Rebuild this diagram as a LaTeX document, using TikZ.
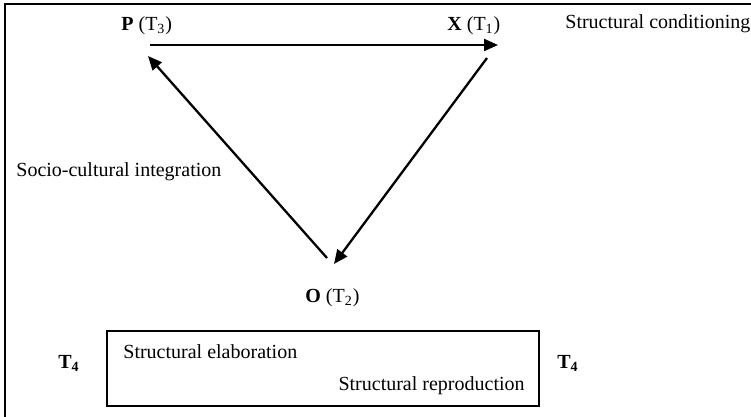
\documentclass[tikz,border=0pt]{standalone}
\usepackage{fontspec}
\setmainfont{Liberation Serif}
\usetikzlibrary{arrows.meta}
\begin{document}
\begin{tikzpicture}[x=0.5pt,y=-0.5pt,
  lbl/.style={inner sep=0pt,font=\fontsize{10}{12}\selectfont},
  arr/.style={line width=1.15pt,-{Triangle[length=7pt,width=6pt]}},
  frame/.style={line width=1.2pt},
  boxstyle/.style={draw,line width=0.9pt,minimum width=216pt,minimum height=37.5pt,inner sep=0pt}]
\useasboundingbox (0,0) rectangle (751,417);
\draw[frame] (5,417) -- (5,4) -- (751,4);
% labels
\node[lbl,anchor=base west] (P) at (121,31) {\textbf{P} (T\textsubscript{3})};
\node[lbl,anchor=base west] (X) at (447,31) {\textbf{X} (T\textsubscript{1})};
\node[lbl,anchor=base west] (O) at (305,303) {\textbf{O} (T\textsubscript{2})};
\node[lbl,anchor=base west] (sc) at (565,29) {Structural conditioning};
\node[lbl,anchor=base west] (si) at (16,177) {Socio-cultural integration};
% arrows
\coordinate (pA) at (150,45);
\coordinate (xA) at (498,45);
\coordinate (xB) at (487,58);
\coordinate (oA) at (334,264);
\coordinate (oB) at (327,258);
\coordinate (pB) at (148,56);
\draw[arr] (pA) -- (xA);
\draw[arr] (xB) -- (oA);
\draw[arr] (oB) -- (pB);
% bottom box
\node[boxstyle] (box) at (323,368.5) {};
\node[lbl,anchor=base west] (se) at (123,358) {Structural elaboration};
\node[lbl,anchor=base east] (sr) at (525,391) {Structural reproduction};
\node[lbl,anchor=base west] (t4l) at (58,369) {\textbf{T\textsubscript{4}}};
\node[lbl,anchor=base west] (t4r) at (557,369) {\textbf{T\textsubscript{4}}};
\end{tikzpicture}
\end{document}
